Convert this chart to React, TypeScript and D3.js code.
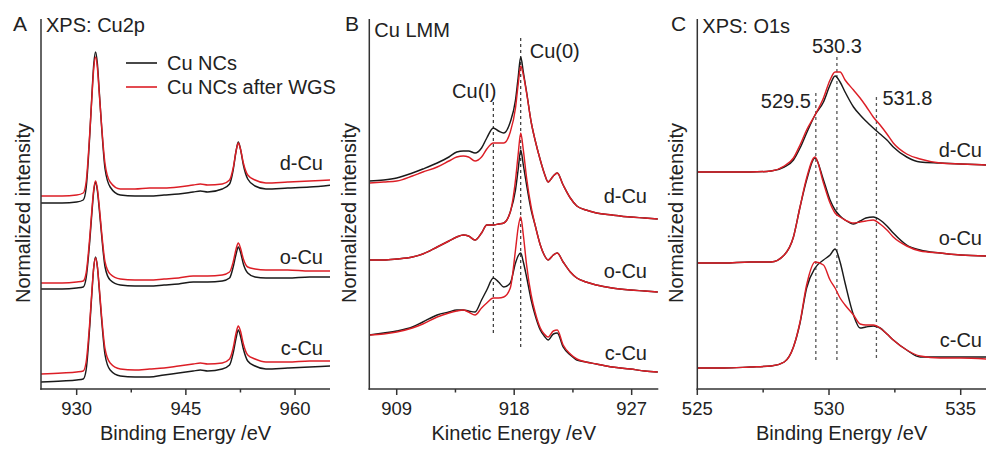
import * as d3 from 'd3';

// ---- Panel A: XPS Cu2p, binding energy (eV) vs normalized intensity (a.u., stacked) ----
const cu2pEnergy = [925, 928, 930, 930.9, 931.3, 931.8, 932.1, 932.35, 932.6, 932.85, 933.1, 933.4, 933.9, 934.6, 936, 938, 940, 942, 944, 946, 947, 948, 950, 951, 951.5, 951.9, 952.2, 952.5, 952.9, 953.5, 954.5, 956, 959, 962, 965];
const cu2pD = [186, 186, 187, 189, 201, 254, 295, 325, 337, 325, 298, 265, 220, 202, 194, 193, 193, 194, 195, 197, 198, 197, 200, 205, 219, 238, 247, 240, 224, 210, 203, 200, 201, 202, 204];
const cu2pDWgs = [193, 193, 194, 196, 207, 256, 293, 321, 332, 321, 296, 266, 225, 207, 200, 200, 201, 201, 202, 204, 205, 204, 205, 209, 221, 238, 246, 240, 226, 214, 209, 206, 207, 208, 209];
const cu2pO = [100, 100, 101, 102, 111, 148, 177, 198, 207, 198, 180, 156, 122, 109, 104, 103, 103, 104, 105, 107, 107, 107, 108, 111, 122, 135, 142, 137, 125, 116, 112, 111, 111, 112, 112];
const cu2pOWgs = [106, 106, 107, 108, 116, 152, 180, 200, 208, 200, 183, 159, 127, 115, 110, 109, 109, 110, 111, 113, 113, 113, 114, 117, 127, 140, 146, 141, 130, 122, 120, 119, 119, 118, 118];
const cu2pC = [7, 8, 9, 10, 19, 63, 97, 122, 132, 122, 100, 72, 34, 19, 13, 12, 12, 14, 16, 18, 19, 18, 20, 24, 36, 51, 59, 53, 40, 28, 23, 20, 21, 22, 23];
const cu2pCWgs = [15, 16, 17, 18, 27, 67, 99, 122, 131, 122, 102, 75, 40, 26, 20, 19, 20, 21, 23, 25, 26, 25, 26, 30, 41, 56, 63, 58, 45, 34, 30, 27, 27, 28, 28];

// ---- Panel B: Cu LMM, kinetic energy (eV) ----
const lmmEnergy = [906.9, 908, 909, 910.2, 911, 912.1, 913, 913.6, 914.1, 914.5, 915.0, 915.5, 915.9, 916.4, 916.8, 917.2, 917.7, 918.1, 918.3, 918.5, 918.7, 918.95, 919.3, 919.6, 920.0, 920.3, 920.6, 921.0, 921.3, 921.75, 922.3, 922.8, 923.5, 924.3, 925.5, 926.9, 928, 929];
const lmmD = [208, 209, 211, 216, 220, 226, 232, 237, 238, 238, 236, 241, 251, 261, 258, 256, 267, 289, 311, 332, 317, 297, 267, 249, 229, 216, 207, 213, 216, 204, 191, 183, 179, 176, 174, 172, 171, 170];
const lmmDWgs = [206, 207, 208, 213, 217, 222, 228, 232, 233, 232, 228, 232, 240, 246, 246, 246, 257, 281, 304, 323, 314, 296, 267, 249, 229, 216, 207, 213, 216, 204, 191, 183, 179, 176, 174, 172, 171, 170];
const lmmO = [129, 129, 130, 132, 135, 142, 148, 152, 154, 153, 149, 156, 164, 164, 165, 166, 177, 199, 219, 239, 224, 204, 179, 164, 144, 134, 129, 134, 136, 127, 117, 111, 107, 104, 101, 99, 98, 97];
const lmmOWgs = [129, 129, 130, 132, 135, 142, 148, 152, 154, 153, 149, 156, 164, 164, 165, 166, 177, 209, 234, 256, 239, 211, 182, 164, 144, 134, 129, 134, 136, 127, 117, 111, 107, 104, 101, 99, 98, 97];
const lmmC = [54, 56, 58, 62, 67, 74, 77, 79, 79, 78, 77, 89, 99, 111, 107, 102, 106, 126, 133, 136, 127, 112, 89, 74, 59, 53, 49, 55, 56, 42, 34, 29, 27, 25, 22, 20, 18, 17];
const lmmCWgs = [54, 55, 57, 61, 65, 72, 76, 78, 79, 77, 74, 81, 86, 91, 91, 92, 101, 139, 161, 172, 154, 124, 94, 77, 61, 55, 52, 58, 59, 44, 35, 30, 27, 25, 22, 20, 18, 17];

// ---- Panel C: XPS O1s, binding energy (eV) ----
const o1sEnergy = [525, 526, 527, 527.8, 528.3, 528.65, 528.9, 529.15, 529.47, 529.79, 530.04, 530.23, 530.42, 530.61, 530.93, 531.18, 531.4, 531.68, 531.94, 532.2, 532.44, 532.95, 533.46, 534.22, 535, 536];
const o1sD = [217, 217, 217, 218, 222, 229, 241, 256, 274, 287, 304, 313, 307, 297, 282, 274, 268, 261, 255, 249, 242, 232, 227, 226, 225, 224];
const o1sDWgs = [217, 217, 217, 218, 223, 231, 244, 259, 274, 291, 309, 317, 317, 309, 299, 291, 283, 272, 264, 255, 246, 235, 230, 226, 225, 224];
const o1sO = [126, 126, 127, 127, 134, 152, 182, 209, 231, 209, 189, 179, 173, 169, 165, 168, 171, 172, 169, 163, 156, 144, 139, 136, 134, 133];
const o1sOWgs = [126, 126, 127, 127, 134, 152, 182, 211, 232, 206, 186, 176, 172, 169, 166, 167, 168, 169, 165, 159, 152, 143, 138, 136, 134, 133];
const o1sC = [21, 21, 22, 23, 27, 42, 66, 101, 121, 129, 134, 140, 127, 106, 74, 61, 62, 63, 61, 55, 49, 39, 32, 32, 32, 32];
const o1sCWgs = [21, 21, 22, 23, 27, 42, 67, 104, 127, 124, 109, 101, 91, 84, 74, 65, 64, 64, 61, 55, 49, 39, 33, 31, 31, 30];

const sampleNames = ['d-Cu', 'o-Cu', 'c-Cu'];
const legendNames = ['Cu NCs', 'Cu NCs after WGS'];
const cu0Line = 918.5;
const cu1Line = 916.4;
const o1sLines = [529.5, 530.3, 531.8];

const BLACK = '#1a1a1a';
const RED = '#dc1e26';
const AXIS = '#333';
const TEXT = '#222';
const FONT = 'Arial, "Liberation Sans", Helvetica, sans-serif';

const AXIS_Y = 389;
const TOP_Y = 19;

type Panel = {
  key: string;
  letter: string;
  letterX: number;
  title: string;
  titleY: number;
  xTitle: string;
  x0: number;
  x1: number;
  domain: [number, number];
  ticks: number[];
  minor: number[];
  energy: number[];
  series: [number[], number[]][];
  labelRight: number;
  labelY: number[];
  yLabelX: number;
};

const panels: Panel[] = [
  {
    key: 'a', letter: 'A', letterX: 13, title: 'XPS: Cu2p', titleY: 32, xTitle: 'Binding Energy /eV',
    x0: 41, x1: 330, domain: [925.1, 964.8], ticks: [930, 945, 960], minor: [937.5, 952.5],
    energy: cu2pEnergy, series: [[cu2pD, cu2pDWgs], [cu2pO, cu2pOWgs], [cu2pC, cu2pCWgs]],
    labelRight: 323, labelY: [170, 264, 355], yLabelX: 30,
  },
  {
    key: 'b', letter: 'B', letterX: 345, title: 'Cu LMM', titleY: 37, xTitle: 'Kinetic Energy /eV',
    x0: 369.3, x1: 658.3, domain: [906.9, 929.04], ticks: [909, 918, 927], minor: [913.5, 922.5],
    energy: lmmEnergy, series: [[lmmD, lmmDWgs], [lmmO, lmmOWgs], [lmmC, lmmCWgs]],
    labelRight: 647, labelY: [203, 278, 360], yLabelX: 356,
  },
  {
    key: 'c', letter: 'C', letterX: 671, title: 'XPS: O1s', titleY: 33, xTitle: 'Binding Energy /eV',
    x0: 697.3, x1: 986, domain: [525, 535.96], ticks: [525, 530, 535], minor: [527.5, 532.5],
    energy: o1sEnergy, series: [[o1sD, o1sDWgs], [o1sO, o1sOWgs], [o1sC, o1sCWgs]],
    labelRight: 982, labelY: [157, 245, 347], yLabelX: 683,
  },
];

const y = d3.scaleLinear().domain([0, 372]).range([AXIS_Y, 17]);

function PanelView({ p }: { p: Panel }) {
  const x = d3.scaleLinear().domain(p.domain).range([p.x0, p.x1]);
  const line = d3
    .line<number>()
    .x((_, i) => x(p.energy[i]))
    .y(d => y(d))
    .curve(d3.curveMonotoneX);
  const clipId = `clip-${p.key}`;

  return (
    <g>
      <defs>
        <clipPath id={clipId}>
          <rect x={p.x0} y={0} width={p.x1 - p.x0} height={AXIS_Y} />
        </clipPath>
      </defs>

      {/* reference lines */}
      {p.key === 'b' && (
        <g stroke="#222" strokeWidth={1.1} strokeDasharray="3,3">
          <line x1={x(cu0Line)} x2={x(cu0Line)} y1={38} y2={348} />
          <line x1={x(cu1Line)} x2={x(cu1Line)} y1={102} y2={335} />
        </g>
      )}
      {p.key === 'c' && (
        <g stroke="#555" strokeWidth={1.3} strokeDasharray="3,3">
          <line x1={x(o1sLines[0])} x2={x(o1sLines[0])} y1={93} y2={360} />
          <line x1={x(o1sLines[1])} x2={x(o1sLines[1])} y1={57} y2={362} />
          <line x1={x(o1sLines[2])} x2={x(o1sLines[2])} y1={97} y2={360} />
        </g>
      )}

      <g clipPath={`url(#${clipId})`} fill="none" strokeWidth={1.45} strokeLinejoin="round">
        {p.series.map(([blk, red], i) => (
          <g key={i}>
            <path d={line(blk) ?? ''} stroke={BLACK} />
            <path d={line(red) ?? ''} stroke={RED} />
          </g>
        ))}
      </g>

      {/* axes */}
      <g stroke={AXIS} strokeWidth={1.5}>
        <line x1={p.x0} x2={p.x0} y1={TOP_Y} y2={AXIS_Y + 0.75} />
        <line x1={p.x0 - 0.75} x2={p.x1} y1={AXIS_Y} y2={AXIS_Y} />
        {p.ticks.map(t => (
          <line key={t} x1={x(t)} x2={x(t)} y1={AXIS_Y} y2={AXIS_Y + 6} />
        ))}
        {p.minor.map(t => (
          <line key={t} x1={x(t)} x2={x(t)} y1={AXIS_Y} y2={AXIS_Y + 3.5} />
        ))}
      </g>

      <g fill={TEXT} fontFamily={FONT}>
        {p.ticks.map(t => (
          <text key={t} x={x(t)} y={415} textAnchor="middle" fontSize={18.5}>
            {t}
          </text>
        ))}
        <text x={(p.x0 + p.x1) / 2} y={440} textAnchor="middle" fontSize={20}>
          {p.xTitle}
        </text>
        <text
          transform={`translate(${p.yLabelX},213) rotate(-90)`}
          textAnchor="middle"
          fontSize={20}
        >
          Normalized intensity
        </text>
        <text x={p.letterX} y={31} fontSize={21}>
          {p.letter}
        </text>
        <text x={p.x0 + 5} y={p.titleY} fontSize={20}>
          {p.title}
        </text>
        {sampleNames.map((n, i) => (
          <text key={n} x={p.labelRight} y={p.labelY[i]} textAnchor="end" fontSize={20}>
            {n}
          </text>
        ))}
        {p.key === 'b' && (
          <>
            <text x={x(cu0Line) + 9} y={58} fontSize={20}>Cu(0)</text>
            <text x={x(cu1Line) - 19} y={98} textAnchor="middle" fontSize={20}>Cu(I)</text>
          </>
        )}
        {p.key === 'c' && (
          <>
            <text x={x(o1sLines[1])} y={53} textAnchor="middle" fontSize={20}>{o1sLines[1].toFixed(1)}</text>
            <text x={x(o1sLines[0]) - 5} y={108} textAnchor="end" fontSize={20}>{o1sLines[0].toFixed(1)}</text>
            <text x={x(o1sLines[2]) + 6} y={105} fontSize={20}>{o1sLines[2].toFixed(1)}</text>
          </>
        )}
      </g>

      {p.key === 'a' && (
        <g fontFamily={FONT} fontSize={20} fill={TEXT}>
          {legendNames.map((n, i) => (
            <g key={n}>
              <line x1={126} x2={157} y1={63 + i * 24} y2={63 + i * 24} stroke={i === 0 ? BLACK : RED} strokeWidth={1.6} />
              <text x={167} y={70 + i * 24}>{n}</text>
            </g>
          ))}
        </g>
      )}
    </g>
  );
}

export default function App() {
  return (
    <svg width={987} height={449} style={{ display: 'block', position: 'absolute', left: 0, top: 0, background: '#fff' }}>
      <rect width={987} height={449} fill="#fff" />
      {panels.map(p => (
        <PanelView key={p.key} p={p} />
      ))}
    </svg>
  );
}
